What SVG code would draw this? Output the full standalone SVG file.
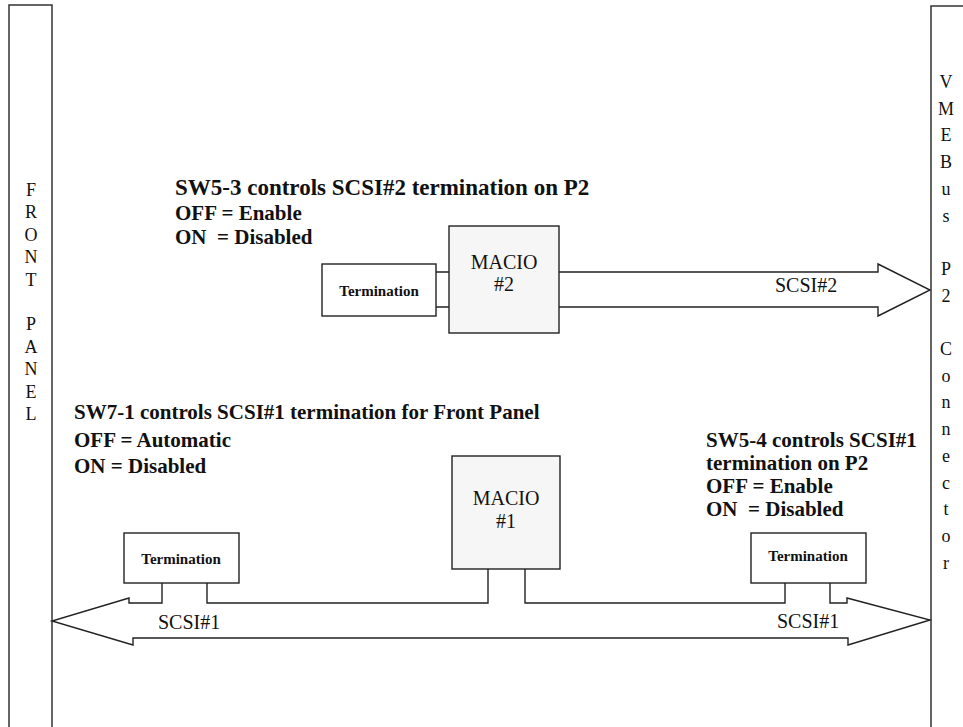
<svg xmlns="http://www.w3.org/2000/svg" width="963" height="727" viewBox="0 0 963 727">
<style>
.box{fill:#fff;stroke:#222;stroke-width:1.4}
.chip{fill:#f6f6f6;stroke:#222;stroke-width:1.4}
.panel{fill:#fff;stroke:#333;stroke-width:1.5}
.ln{fill:none;stroke:#222;stroke-width:1.4}
.reg{font-family:"Liberation Serif","Times New Roman",serif;font-size:20px;fill:#111}
.pl{font-family:"Liberation Serif","Times New Roman",serif;font-size:18px;fill:#111;text-anchor:middle}
.bold{font-family:"Liberation Serif","Times New Roman",serif;font-weight:bold;font-size:21px;fill:#111;white-space:pre}
.term{font-family:"Liberation Serif","Times New Roman",serif;font-weight:bold;font-size:15px;fill:#111;text-anchor:middle}
.mid{text-anchor:middle}
</style>
<rect width="963" height="727" fill="#fff"/>
<g id="front-panel">
<rect class="panel" x="9" y="5" width="43" height="730"/>
<text class="pl"><tspan x="31" y="196">F</tspan><tspan x="31" y="218.4">R</tspan><tspan x="31" y="240.8">O</tspan><tspan x="31" y="263.2">N</tspan><tspan x="31" y="285.6">T</tspan><tspan x="31" y="330.4">P</tspan><tspan x="31" y="352.8">A</tspan><tspan x="31" y="375.2">N</tspan><tspan x="31" y="397.6">E</tspan><tspan x="31" y="420">L</tspan></text>
</g>
<g id="vmebus-p2">
<rect class="panel" x="931" y="6" width="40" height="730"/>
<text class="pl"><tspan x="946" y="88">V</tspan><tspan x="946" y="114.7">M</tspan><tspan x="946" y="141.4">E</tspan><tspan x="946" y="168.1">B</tspan><tspan x="946" y="194.8">u</tspan><tspan x="946" y="221.5">s</tspan><tspan x="946" y="274.9">P</tspan><tspan x="946" y="301.6">2</tspan><tspan x="946" y="355">C</tspan><tspan x="946" y="381.7">o</tspan><tspan x="946" y="408.4">n</tspan><tspan x="946" y="435.1">n</tspan><tspan x="946" y="461.8">e</tspan><tspan x="946" y="488.5">c</tspan><tspan x="946" y="515.2">t</tspan><tspan x="946" y="541.9">o</tspan><tspan x="946" y="568.6">r</tspan></text>
</g>
<g id="connectors">
<path class="ln" d="M436,272 H449 M436,307 H449"/>
<path class="ln" d="M559,272 H878 V264 L930,290 L878,316 V307 H559"/>
<path class="ln" d="M162,583 V603 H129 V598 L52,621 L133,645 V638 H848 V645 L930,620 L847,598 V603 H830 V583"/>
<path class="ln" d="M207,583 V603 H488 V569"/>
<path class="ln" d="M525,569 V603 H785 V583"/>
<text class="reg" x="775" y="292">SCSI#2</text>
<text class="reg" x="158" y="629">SCSI#1</text>
<text class="reg" x="777" y="628">SCSI#1</text>
</g>
<g id="macio2">
<rect class="chip" x="449" y="226" width="110" height="107"/>
<text class="reg mid" x="504" y="269">MACIO</text>
<text class="reg mid" x="504" y="291">#2</text>
</g>
<g id="termination-p2">
<rect class="box" x="322" y="264" width="114" height="52"/>
<text class="term" x="379" y="296">Termination</text>
</g>
<g id="macio1">
<rect class="chip" x="452" y="456" width="108" height="113"/>
<text class="reg mid" x="506" y="505">MACIO</text>
<text class="reg mid" x="506" y="528">#1</text>
</g>
<g id="termination-front">
<rect class="box" x="124" y="533" width="115" height="50"/>
<text class="term" x="181" y="564">Termination</text>
</g>
<g id="termination-right">
<rect class="box" x="751" y="533" width="115" height="50"/>
<text class="term" x="808" y="561">Termination</text>
</g>
<g id="note-sw5-3">
<text class="bold" style="font-size:23px" x="175" y="195">SW5-3 controls SCSI#2 termination on P2</text>
<text class="bold" x="175" y="220">OFF = Enable</text>
<text class="bold" x="175" y="244">ON  = Disabled</text>
</g>
<g id="note-sw7-1">
<text class="bold" x="74" y="419">SW7-1 controls SCSI#1 termination for Front Panel</text>
<text class="bold" x="74" y="447">OFF = Automatic</text>
<text class="bold" x="74" y="473">ON = Disabled</text>
</g>
<g id="note-sw5-4">
<text class="bold" x="706" y="447">SW5-4 controls SCSI#1</text>
<text class="bold" x="706" y="470">termination on P2</text>
<text class="bold" x="706" y="493">OFF = Enable</text>
<text class="bold" x="706" y="516">ON  = Disabled</text>
</g>
</svg>
